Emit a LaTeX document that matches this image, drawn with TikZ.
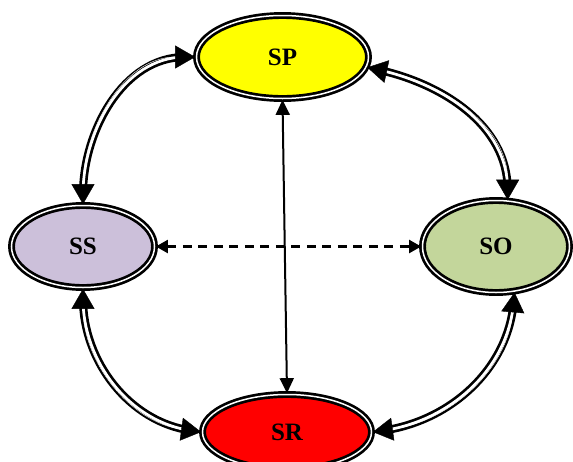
\documentclass[tikz,border=0pt]{standalone}
\usepackage{fontspec}
\setmainfont{Liberation Serif}
\usetikzlibrary{shapes.geometric,arrows.meta}
\definecolor{spY}{RGB}{255,255,0}
\definecolor{ssP}{RGB}{204,192,218}
\definecolor{soG}{RGB}{195,214,155}
\definecolor{srR}{RGB}{255,0,0}
\begin{document}
\begin{tikzpicture}[x=1pt,y=-1pt,
  state/.style={ellipse, draw=black, double=white, line width=2.7pt, double distance=1.5pt, inner sep=0pt, font=\fontsize{25}{28}\selectfont\bfseries},
  dbl/.style={draw=black, double=white, line width=2.7pt, double distance=2.7pt, shorten <=10pt, shorten >=10pt},
  heads/.style={draw=white, line width=0.4pt, {Triangle[color=black,length=20pt,width=23pt]}-{Triangle[color=black,length=20pt,width=23pt]}},
  thinarr/.style={draw=black, line width=2pt, {Triangle[length=15pt,width=14pt]}-{Triangle[length=15pt,width=14pt]}},
  dsh/.style={draw=black, line width=2.2pt, dash pattern=on 9pt off 6.5pt, {Triangle[length=12pt,width=13pt]}-{Triangle[length=12pt,width=13pt]}}
]
\useasboundingbox (0,0) rectangle (573,461);
\node[state, fill=spY, minimum width=172pt, minimum height=83pt] (sp) at (282.5,57) {SP};
\node[state, fill=ssP, minimum width=143pt, minimum height=82pt] (ss) at (83,246.5) {SS};
\node[state, fill=soG, minimum width=147pt, minimum height=92pt] (so) at (496,246.5) {SO};
\node[state, fill=srR, minimum width=169pt, minimum height=75pt] (sr) at (287,432) {SR};

\path[dbl] (sp.180) to[out=180,in=90] (ss.north);
\path[heads] (sp.180) to[out=180,in=90] (ss.north);
\path[dbl] (sp.-7) to[out=-12,in=90] (so.76);
\path[heads] (sp.-7) to[out=-12,in=90] (so.76);
\path[dbl] (ss.south) to[out=-90,in=172] (sr.west);
\path[heads] (ss.south) to[out=-90,in=172] (sr.west);
\path[dbl] (so.-68) to[out=-95,in=8] (sr.east);
\path[heads] (so.-68) to[out=-95,in=8] (sr.east);

\draw[thinarr] (sp.south) -- (sr.north);
\draw[dsh] (ss.east) -- (so.west);
\end{tikzpicture}
\end{document}
